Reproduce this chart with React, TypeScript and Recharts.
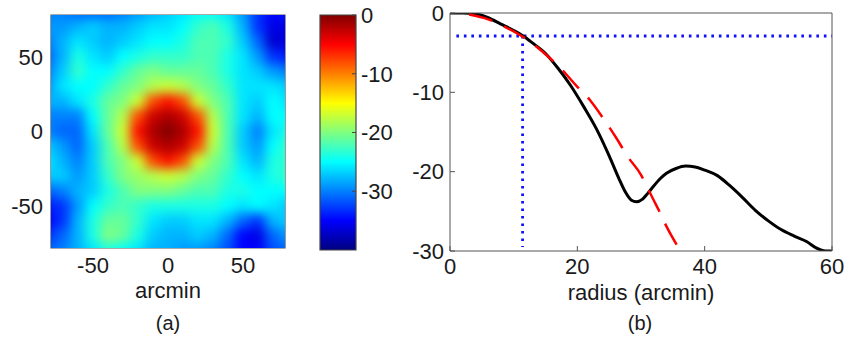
import React from 'react';
import { ScatterChart, Scatter, XAxis, YAxis, ReferenceArea, LineChart, Line, Label } from 'recharts';

// ---------- Panel (a): heat map grid (arcmin) ----------
const heatX = [-80, -70, -60, -50, -40, -30, -20, -10, 0, 10, 20, 30, 40, 50, 60, 70, 80];
const heatY = [80, 70, 60, 50, 40, 30, 20, 10, 0, -10, -20, -30, -40, -50, -60, -70, -80];
const heatRows = [
  [-30, -30, -31, -31, -31, -30, -29, -28, -27, -26, -25, -25, -26, -29, -33, -35, -34],
  [-29, -29, -28, -27, -28, -28, -27, -26, -26, -25, -23, -22, -24, -28, -33, -36, -36],
  [-30, -28, -26, -27, -28, -27, -26, -25, -25, -24, -22, -22, -23, -27, -31, -37, -36],
  [-31, -28, -24, -26, -27, -25, -24, -23, -23, -23, -22, -22, -24, -26, -29, -33, -34],
  [-30, -27, -23, -25, -25, -23, -21, -20, -21, -21, -21, -22, -24, -26, -27, -29, -30],
  [-29, -26, -25, -25, -23, -21, -20, -18, -17, -18, -20, -21, -23, -26, -26, -26, -27],
  [-28, -28, -26, -24, -21, -20, -17, -8, -5.5, -8, -17, -20, -22, -26, -27, -25, -26],
  [-30, -30, -30, -25, -21, -18, -8, -3, -1.8, -3, -8, -18, -22, -26, -28, -25, -25],
  [-30, -31, -31, -26, -21, -17, -5.5, -1.8, 0, -1.8, -5.5, -17, -22, -27, -30, -26, -24],
  [-27, -29, -31, -27, -22, -18, -8, -3, -1.8, -3, -8, -18, -22, -27, -29, -25, -23],
  [-26, -28, -30, -27, -22, -20, -17, -8, -5.5, -8, -17, -20, -22, -26, -28, -24, -23],
  [-27, -27, -29, -27, -23, -20, -19, -18, -17, -18, -20, -21, -23, -25, -26, -24, -23],
  [-31, -30, -28, -27, -24, -22, -20, -20, -20, -21, -22, -22, -24, -24, -25, -25, -25],
  [-34, -33, -29, -25, -23, -22, -23, -24, -24, -24, -24, -24, -25, -26, -25, -26, -27],
  [-35, -33, -28, -24, -21, -21, -23, -26, -27, -27, -26, -26, -28, -31, -33, -28, -27],
  [-33, -31, -28, -24, -20, -21, -24, -27, -28, -28, -27, -28, -31, -35, -36, -31, -29],
  [-31, -30, -28, -26, -24, -25, -26, -28, -28, -29, -29, -30, -32, -35, -35, -32, -31],
];
const heatTicks = [-50, 0, 50];
const heatDomain = [-78, 78];

// ---------- colour bar ----------
const cbDomain = [-40, 0];
const cbTicks = [0, -10, -20, -30];
const cbEnds = [{ x: 0, y: -40 }, { x: 1, y: 0 }];

// ---------- Panel (b): radial profile ----------
const radiusTicks = [0, 20, 40, 60];
const dbTicks = [0, -10, -20, -30];
const measured = [
  { r: 0, v: 0 }, { r: 2, v: 0 }, { r: 4, v: -0.1 }, { r: 6, v: -0.6 }, { r: 8, v: -1.4 },
  { r: 10, v: -2.2 }, { r: 11.5, v: -2.9 }, { r: 13, v: -3.8 }, { r: 15, v: -5.1 },
  { r: 17, v: -7.0 }, { r: 19, v: -9.2 }, { r: 21, v: -11.8 }, { r: 23, v: -14.6 },
  { r: 25, v: -18.0 }, { r: 26.5, v: -20.8 }, { r: 27.5, v: -22.5 }, { r: 28.5, v: -23.6 },
  { r: 29.3, v: -23.8 }, { r: 30.2, v: -23.5 }, { r: 31, v: -22.8 }, { r: 32, v: -21.8 },
  { r: 33, v: -20.9 }, { r: 34, v: -20.2 }, { r: 35.5, v: -19.6 }, { r: 37, v: -19.3 },
  { r: 38.5, v: -19.4 }, { r: 40, v: -19.8 }, { r: 42, v: -20.5 }, { r: 44, v: -21.8 },
  { r: 46, v: -23.3 }, { r: 48, v: -24.9 }, { r: 50, v: -26.2 }, { r: 52, v: -27.3 },
  { r: 54, v: -28.1 }, { r: 56, v: -28.8 }, { r: 57.5, v: -29.6 }, { r: 59, v: -30 }, { r: 60, v: -30 },
];
const gaussFit = [
  { r: 3, v: -0.2 }, { r: 6, v: -0.8 }, { r: 9, v: -1.9 }, { r: 12, v: -3.3 }, { r: 15, v: -5.2 },
  { r: 17.3, v: -6.9 }, { r: 20, v: -9.3 }, { r: 22, v: -11.0 }, { r: 24, v: -13.2 },
  { r: 26, v: -15.6 }, { r: 28, v: -18.2 }, { r: 30, v: -20.4 }, { r: 31, v: -22.0 },
  { r: 32, v: -23.6 }, { r: 33, v: -25.2 }, { r: 34, v: -26.9 }, { r: 35.6, v: -29.2 },
];
const halfPowerH = [{ r: 1, v: -2.9 }, { r: 60, v: -2.9 }];
const halfPowerV = [{ r: 11.4, v: -2.9 }, { r: 11.4, v: -29.5 }];

// ---------- helpers ----------
const FONT = '"Liberation Sans", Arial, Helvetica, sans-serif';
const tickStyle = { fill: '#1a1a1a', fontSize: 22, fontFamily: FONT };
const CELL = 15.6;

const clamp = (a: number) => Math.max(0, Math.min(1, a));
function jet(v: number) {
  const t = clamp((v - cbDomain[0]) / (cbDomain[1] - cbDomain[0]));
  const r = clamp(1.5 - Math.abs(4 * t - 3));
  const g = clamp(1.5 - Math.abs(4 * t - 2));
  const b = clamp(1.5 - Math.abs(4 * t - 1));
  return `rgb(${Math.round(r * 255)},${Math.round(g * 255)},${Math.round(b * 255)})`;
}

const heatCells = heatY.flatMap((y, i) => heatX.map((x, j) => ({ x, y, v: heatRows[i][j] })));

function HeatCell(props: any) {
  const { cx, cy, payload } = props;
  if (cx == null || cy == null) return null;
  return <rect x={cx - CELL / 2} y={cy - CELL / 2} width={CELL} height={CELL} fill={jet(payload.v)} />;
}

const Empty = () => <g />;

const txt = (x: number, y: number, s: string, size = 22) => (
  <text x={x} y={y} textAnchor="middle" fontSize={size} fontFamily={FONT} fill="#1a1a1a">{s}</text>
);

export default function App() {
  return (
    <div style={{ position: 'absolute', left: 0, top: 0, width: 847, height: 339, background: '#fff', fontFamily: FONT }}>
      <style>{`.heatmap .recharts-scatter { filter: url(#heatBlur); }`}</style>
      <svg width={0} height={0} style={{ position: 'absolute' }}>
        <defs>
          <filter id="heatBlur" x="0" y="0" width="1" height="1" colorInterpolationFilters="sRGB">
            <feGaussianBlur stdDeviation="5.5" edgeMode="duplicate" />
            <feComponentTransfer>
              <feFuncA type="table" tableValues="1 1" />
            </feComponentTransfer>
          </filter>
          <linearGradient id="jetGrad" x1="0" y1="1" x2="0" y2="0">
            <stop offset="0" stopColor="rgb(0,0,128)" />
            <stop offset="0.125" stopColor="rgb(0,0,255)" />
            <stop offset="0.375" stopColor="rgb(0,255,255)" />
            <stop offset="0.625" stopColor="rgb(255,255,0)" />
            <stop offset="0.875" stopColor="rgb(255,0,0)" />
            <stop offset="1" stopColor="rgb(128,0,0)" />
          </linearGradient>
        </defs>
      </svg>

      {/* Panel (a) */}
      <div className="heatmap" style={{ position: 'absolute', left: 0, top: 0 }}>
        <ScatterChart width={300} height={339} margin={{ top: 15, right: 15, bottom: 0, left: 0 }}>
          <XAxis type="number" dataKey="x" domain={heatDomain} allowDataOverflow ticks={heatTicks} interval={0}
            tickSize={0} tickMargin={9} axisLine={false} tickLine={false} height={91} tick={tickStyle}>
            <Label content={() => <g>{txt(168, 298, 'arcmin')}{txt(168, 330, '(a)', 20)}</g>} />
          </XAxis>
          <YAxis type="number" dataKey="y" domain={heatDomain} allowDataOverflow ticks={heatTicks} interval={0}
            tickSize={0} tickMargin={8} axisLine={false} tickLine={false} width={51} tick={tickStyle} />
          <Scatter data={heatCells} shape={HeatCell} isAnimationActive={false} />
          <ReferenceArea x1={heatDomain[0]} x2={heatDomain[1]} y1={heatDomain[0]} y2={heatDomain[1]}
            fill="none" stroke="#555" strokeWidth={1.2} fillOpacity={0} />
        </ScatterChart>
      </div>

      {/* Colour bar */}
      <div style={{ position: 'absolute', left: 300, top: 0 }}>
        <ScatterChart width={100} height={339} margin={{ top: 15, right: 0, bottom: 89, left: 0 }}>
          <XAxis type="number" dataKey="x" domain={[0, 1]} hide />
          <YAxis yAxisId="l" type="number" dataKey="y" domain={cbDomain} ticks={cbTicks} width={20} tick={false}
            axisLine={false} tickSize={-4} stroke="#444" interval={0} />
          <YAxis orientation="right" type="number" dataKey="y" domain={cbDomain} ticks={cbTicks} width={44}
            tickSize={-4} tickMargin={9} axisLine={false} stroke="#444" tick={tickStyle} interval={0} />
          <Scatter data={cbEnds} shape={Empty} isAnimationActive={false} />
          <Scatter yAxisId="l" data={cbEnds} shape={Empty} isAnimationActive={false} />
          <ReferenceArea x1={0} x2={1} y1={cbDomain[0]} y2={cbDomain[1]} fill="url(#jetGrad)" fillOpacity={1}
            stroke="#444" strokeWidth={1.2} />
        </ScatterChart>
      </div>

      {/* Panel (b) */}
      <div style={{ position: 'absolute', left: 400, top: 0 }}>
        <LineChart width={447} height={339} margin={{ top: 12, right: 14, bottom: 0, left: 0 }}>
          <XAxis type="number" dataKey="r" domain={[0, 60]} ticks={radiusTicks} interval={0} height={88}
            tickSize={-5} tickMargin={12} stroke="#555" tick={tickStyle} allowDataOverflow>
            <Label content={() => <g>{txt(241, 300, 'radius (arcmin)')}{txt(240, 330, '(b)', 20)}</g>} />
          </XAxis>
          <XAxis xAxisId="top" orientation="top" type="number" dataKey="r" domain={[0, 60]} ticks={radiusTicks}
            interval={0} height={1} tickSize={-5} tick={false} stroke="#555" allowDataOverflow />
          <YAxis type="number" domain={[-30, 0]} ticks={dbTicks} interval={0} width={50}
            tickSize={-5} tickMargin={11} stroke="#555" tick={tickStyle} allowDataOverflow />
          <YAxis yAxisId="right" orientation="right" type="number" domain={[-30, 0]} ticks={dbTicks} interval={0}
            width={1} tickSize={-5} tick={false} stroke="#555" allowDataOverflow />
          <Line xAxisId="top" yAxisId="right" data={halfPowerH} dataKey="v" type="linear" stroke="#1010ff"
            strokeWidth={2.8} strokeDasharray="2.6 4.9" dot={false} isAnimationActive={false} />
          <Line data={halfPowerV} dataKey="v" type="linear" stroke="#1010ff" strokeWidth={2.8}
            strokeDasharray="2.6 4.9" dot={false} isAnimationActive={false} />
          <Line data={measured} dataKey="v" type="monotone" stroke="#000" strokeWidth={3}
            dot={false} isAnimationActive={false} />
          <Line data={gaussFit} dataKey="v" type="monotone" stroke="#f00" strokeWidth={2.5}
            strokeDasharray="24 13" dot={false} isAnimationActive={false} />
        </LineChart>
      </div>
    </div>
  );
}
